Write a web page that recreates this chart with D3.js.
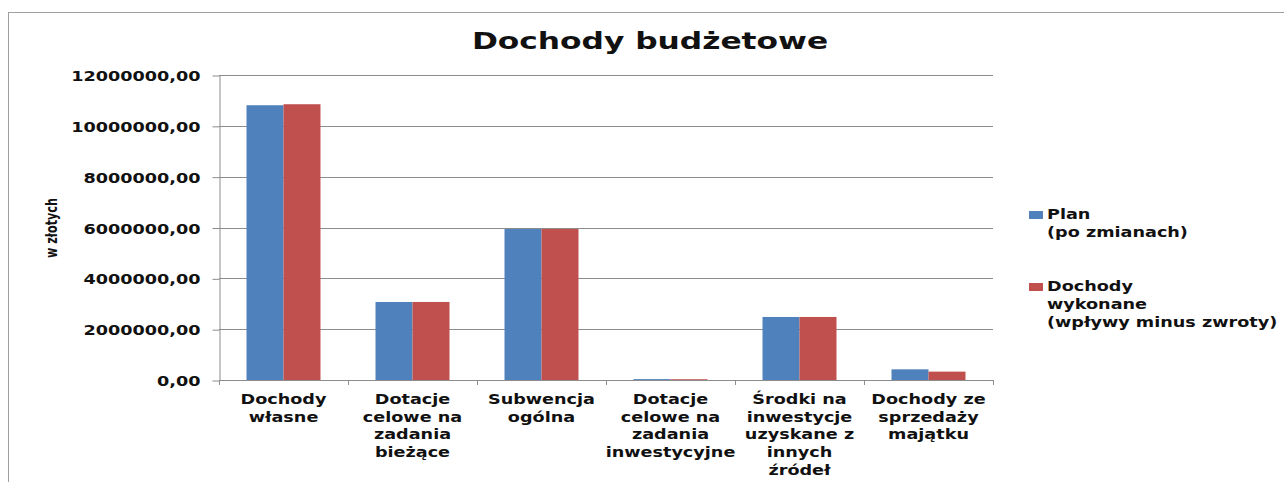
<!DOCTYPE html>
<html>
<head>
<meta charset="utf-8">
<script src="https://cdn.jsdelivr.net/npm/d3@7"></script>
<style>
  html, body { margin: 0; padding: 0; background: #fff; }
  text { font-family: "DejaVu Sans", sans-serif; font-weight: bold; fill: #111; }
</style>
</head>
<body>
<svg id="chart" width="1284" height="482"></svg>
<script>
// Dochody budżetowe — grouped bars, plan vs wykonanie

const categories = [
  ["Dochody", "własne"],
  ["Dotacje", "celowe na", "zadania", "bieżące"],
  ["Subwencja", "ogólna"],
  ["Dotacje", "celowe na", "zadania", "inwestycyjne"],
  ["Środki na", "inwestycje", "uzyskane z", "innych", "źródeł"],
  ["Dochody ze", "sprzedaży", "majątku"]
];
const seriesNames = ["Plan", "Dochody wykonane"];
const legendLabels = [
  ["Plan", "(po zmianach)"],
  ["Dochody", "wykonane", "(wpływy minus zwroty)"]
];
const planValues = [10810000, 3070000, 5940000, 35000, 2480000, 420000];
const doneValues = [10850000, 3070000, 5940000, 30000, 2480000, 330000];
const yTicks = [0, 2000000, 4000000, 6000000, 8000000, 10000000, 12000000];
const colors = ["#4F81BD", "#C0504D"];

const svg = d3.select("#chart");
const plot = { left: 219, right: 993, top: 75, bottom: 380 };
const sx = 1.26;   // the original text is stretched sideways

// outer frame
svg.append("rect")
  .attr("x", 8.5).attr("y", 12.5)
  .attr("width", 1300).attr("height", 500)
  .attr("fill", "none").attr("stroke", "#a0a0a0");

const y = d3.scaleLinear().domain([0, 12000000]).range([plot.bottom, plot.top]);
const x0 = d3.scaleBand()
  .domain(d3.range(categories.length))
  .range([plot.left, plot.right])
  .paddingInner(0.4264).paddingOuter(0.2132);
const x1 = d3.scaleBand().domain(seriesNames).range([0, x0.bandwidth()]);

const fmt = d3.formatLocale({ decimal: ",", thousands: "", grouping: [3], currency: ["", ""] }).format(".2f");

// gridlines
svg.append("g").selectAll("line")
  .data(yTicks.filter(d => d > 0))
  .join("line")
  .attr("x1", plot.left).attr("x2", plot.right)
  .attr("y1", d => Math.round(y(d)) + 0.5).attr("y2", d => Math.round(y(d)) + 0.5)
  .attr("stroke", "#8c8c8c");

// y axis
const yAxis = svg.append("g")
  .attr("transform", `translate(${plot.left + 0.5},0.5)`)
  .call(d3.axisLeft(y).tickValues(yTicks).tickFormat(fmt).tickSize(7).tickSizeOuter(0));
yAxis.select(".domain").attr("stroke", "#8c8c8c");
yAxis.selectAll(".tick line").attr("stroke", "#8c8c8c");
yAxis.selectAll(".tick text")
  .attr("x", -19 / sx).attr("dy", "0.36em")
  .attr("transform", `scale(${sx},1)`)
  .style("font-family", "DejaVu Sans").style("font-weight", "bold")
  .style("font-size", "14px").attr("fill", "#111");

// bars
const groups = svg.append("g").selectAll("g")
  .data(categories.map((c, i) => i))
  .join("g")
  .attr("transform", i => `translate(${x0(i)},0)`);
groups.selectAll("rect")
  .data(i => [planValues[i], doneValues[i]].map((v, s) => ({ v, s })))
  .join("rect")
  .attr("x", d => x1(seriesNames[d.s]))
  .attr("width", x1.bandwidth())
  .attr("y", d => y(d.v))
  .attr("height", d => Math.max(1, y(0) - y(d.v)))
  .attr("fill", d => colors[d.s]);

// x axis
const step = x0.step();
svg.append("line")
  .attr("x1", plot.left).attr("x2", plot.right)
  .attr("y1", plot.bottom + 0.5).attr("y2", plot.bottom + 0.5)
  .attr("stroke", "#8c8c8c");
svg.append("g").selectAll("line")
  .data(d3.range(categories.length + 1))
  .join("line")
  .attr("x1", i => Math.round(plot.left + i * step) + 0.5)
  .attr("x2", i => Math.round(plot.left + i * step) + 0.5)
  .attr("y1", plot.bottom).attr("y2", plot.bottom + 5)
  .attr("stroke", "#8c8c8c");

const catLabels = svg.append("g").selectAll("text")
  .data(categories)
  .join("text")
  .attr("transform", (d, i) => `translate(${x0(i) + x0.bandwidth() / 2},404) scale(${sx},1)`)
  .attr("text-anchor", "middle")
  .style("font-size", "14px");
catLabels.selectAll("tspan")
  .data(d => d)
  .join("tspan")
  .attr("x", 0)
  .attr("y", (d, j) => j * 17.7)
  .text(d => d);

// title
svg.append("text")
  .attr("transform", `translate(650,49) scale(1.36,1)`)
  .attr("text-anchor", "middle")
  .style("font-size", "23px")
  .text("Dochody budżetowe");

// y axis title
svg.append("text")
  .attr("transform", "translate(57,228) rotate(-90) scale(0.7,1)")
  .attr("text-anchor", "middle")
  .style("font-size", "16px")
  .text("w złotych");

// legend
const legendTop = [211, 283];
const legend = svg.append("g").selectAll("g")
  .data(legendLabels)
  .join("g")
  .attr("transform", (d, i) => `translate(1029,${legendTop[i]})`);
legend.append("rect")
  .attr("width", 14).attr("height", 8)
  .attr("fill", (d, i) => colors[i]);
legend.append("text")
  .attr("transform", `translate(18,8) scale(${sx},1)`)
  .style("font-size", "14px")
  .selectAll("tspan")
  .data(d => d)
  .join("tspan")
  .attr("x", 0)
  .attr("y", (d, j) => j * 18)
  .text(d => d);
</script>
</body>
</html>
